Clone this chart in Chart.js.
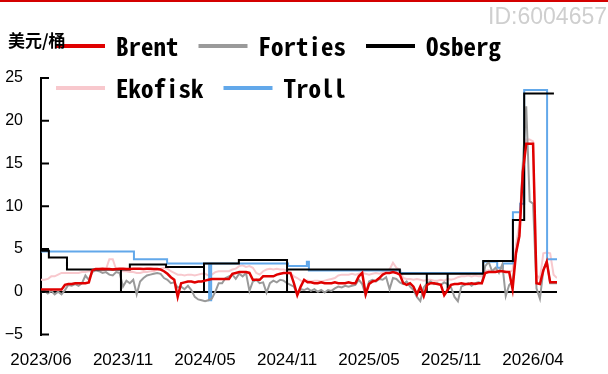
<!DOCTYPE html>
<html>
<head>
<meta charset="utf-8">
<script src="https://cdn.jsdelivr.net/npm/chart.js@4.4.0/dist/chart.umd.min.js"></script>
<style>
  html, body { margin: 0; padding: 0; background: #fff; }
</style>
</head>
<body>
<canvas id="myChart" width="608" height="374"></canvas>
<script>
// x runs over sample index; a date label every 24 samples
const tickLabels = ['2023/06', '2023/11', '2024/05', '2024/11', '2025/05', '2025/11', '2026/04'];
const tickStep = 24;
const lastIndex = 151;

const brent = [
  0.25, 0.25, 0.25, 0.25, 0.25, 0.25, 0.25, 0.8,
  0.9, 0.9, 1.0, 1.0, 1.0, 1.0, 1.1, 2.5,
  2.65, 2.65, 2.7, 2.65, 2.65, 2.6, 2.65, 2.7, 2.7, 2.65, 2.65, 2.7, 2.7, 2.7, 2.65, 2.7, 2.7, 2.65, 2.65, 2.6,
  2.4, 2.1, 1.7, 1.4, -0.6,
  1.0, 1.1, 1.2, 1.2, 1.1, 1.2, 1.2,
  1.3, 1.4, 1.5, 1.5, 1.5, 1.5, 1.5, 1.5,
  2.1, 2.2, 2.3, 2.3, 2.3, 2.2,
  1.4, 1.4, 1.4, 1.8, 1.8, 1.8, 1.8,
  2.0, 2.1, 2.2, 2.2, 2.2,
  1.0, -0.4, 0.6, 1.4, 1.1,
  1.1, 1.0, 1.0, 1.1, 1.0, 1.0, 1.0, 1.1, 1.0, 1.0, 1.0, 1.1, 1.0, 1.0,
  1.8, 2.2, -0.3,
  0.9, 1.2, 1.3, 1.6, 2.0, 2.2, 2.2, 2.3, 2.2, 2.0,
  1.0, 0.8, 1.0, 0.6, -0.3, 0.6, -0.5, 0.8,
  1.0, 1.0, 0.9, 0.8, -0.4, 0.2,
  0.8, 0.9, 0.9, 1.0, 0.9, 0.9, 1.0, 0.9, 1.0, 1.0,
  2.2, 2.3, 2.3, 2.3, 2.4, 2.4, 2.3, 2.3,
  0.3, 4.5, 6.5, 14.0,
  17.3, 17.3, 17.3,
  1.0, 0.9, 2.5, 3.5, 1.1, 1.1, 1.1
];

const forties = [
  0.0, 0.1, -0.2, 0.1, -0.3, 0.0, -0.3, 0.2,
  0.8, 0.7, 0.9, 0.7, 1.0, 1.9, 1.4,
  2.3, 2.5, 2.4, 2.2, 2.3, 2.0, 1.9, 2.3, 2.2,
  0.6, 1.3, 1.0, 1.4, -0.3, 1.2, 1.6, 1.9, 2.0, 2.1, 2.2, 2.1,
  1.6, 1.4, 1.0, 1.1, 0.5, 0.6, 0.3, 0.7, 0.2, -0.6, -0.9, -1.0, -1.1, -1.0, -0.8,
  0.0, 1.0, 1.0, 1.6, 1.8, 2.0, 1.5, 2.1, 1.8, 2.2,
  0.1, 1.2, 1.4, 1.0, 1.1, -0.1, 1.0, 1.3, 1.1, 1.4, 1.3, 1.0,
  0.8, 0.6, -0.3, 0.3, 0.2, 0.4, 0.1, 0.3, 0.0, 0.2, -0.1, 0.2, 0.1, 0.4,
  0.6, 0.5, 0.7, 0.6, 0.7, 0.8, 1.4, 0.9, -0.4,
  1.2, 1.4, 1.2, 1.5, 1.4, 1.7, 0.3, 1.6, 1.5, 1.1,
  0.9, 1.2, 0.6, 0.2, -0.6, -1.1, 0.5, 1.0,
  1.2, 0.9, 1.0, 0.8, 1.1, 0.9, 0.5, -0.6, -1.1,
  0.6, 0.8, 1.0, 0.7, 1.0, 1.1, 1.0,
  3.0, 3.5, 2.4, 2.8, 2.2, 3.2, -0.5, 0.8, 1.2,
  4.5, 7.0, 15.0, 21.7, 10.6, 10.3, 0.4,
  -0.8, 2.5, 3.6, 1.0, 1.0, 1.0
];

const ekofisk = [
  1.4, 1.4, 1.5, 1.8, 1.8, 2.0, 2.2, 2.2, 2.2,
  2.2, 2.2, 2.2, 2.3, 2.3, 2.4, 2.4, 2.5, 2.5, 2.5, 2.6,
  3.8, 3.8, 2.6, 2.5, 2.4, 2.4,
  2.3, 2.3, 2.2, 2.2, 2.3, 2.3, 2.4, 2.4, 2.6, 2.7,
  2.8, 2.7, 2.4, 2.2, 2.0, 2.0, 1.9, 2.0, 2.0, 1.9, 2.0, 2.1, 2.1, 1.9, 2.0,
  2.3, 2.4, 2.4, 2.4, 2.4, 2.6, 2.7, 3.0, 3.1, 2.9, 3.0, 2.8,
  2.2, 2.0, 2.4, 2.6, 2.7, 2.6, 2.7, 2.6, 2.6, 2.5, 2.2,
  1.8, 1.6, 1.3, 1.2, 1.3, 1.2, 1.3, 1.3, 1.2, 1.3, 1.4, 1.5, 1.6,
  1.9, 2.0, 2.0, 2.0, 2.1, 2.0, 2.1, 2.2, 2.1, 2.0, 2.1, 2.2, 2.1, 2.3,
  2.5, 2.6, 3.4, 2.8, 2.6,
  1.6, 1.5, 1.5, 1.4, 1.5, 1.4, 1.3, 1.4,
  1.4, 1.3, 1.3, 1.4, 1.3, 1.5, 1.4, 1.5,
  1.7, 1.8, 1.8, 1.9, 1.8, 1.9, 1.8, 1.8,
  2.4, 2.5, 2.4, 2.5, 2.6, 2.5, 2.4, 2.3, 2.5,
  5.5, 8.0, 14.5, 17.8, 17.8, 17.6, 2.0, 1.5,
  4.5, 4.6, 4.5, 2.0, 1.6
];

// Osberg and Troll move in steps: sample index where each level starts, and the level
const osbergX = [0, 2.3, 7.6, 23.4, 23.4, 26.0, 36.6, 47.7, 47.7, 57.9, 72, 72, 105, 112.9, 112.9, 119, 119, 129.4, 138.1, 141.4, 150.1];
const osbergY = [4.8, 4.0, 2.6, 0, 2.6, 3.2, 2.9, 0, 3.3, 3.7, 0, 2.6, 2.1, 0, 2.1, 0, 2.1, 3.6, 8.4, 23.2, 23.2];

const trollX = [0, 27.2, 36.9, 49.2, 49.8, 72.3, 77.8, 78.4, 105.1, 129.4, 133.5, 135.2, 138.1, 140.2, 141.4, 148.1, 151];
const trollY = [4.7, 3.8, 3.3, -1.0, 3.3, 3.0, 3.5, 2.5, 2.2, 3.5, 2.8, 3.3, 9.3, 10.3, 23.6, 3.8, 3.8];

const indexed = arr => arr.map((v, i) => ({ x: i, y: v }));
const zipped = (xs, ys) => xs.map((x, i) => ({ x: x, y: ys[i] }));

Chart.defaults.font.family = '"Liberation Sans", Arial, sans-serif';
Chart.defaults.color = '#000';

// legend rows and the unit label, drawn above the plot
const legendRows = [[0, 1, 2], [3, 4]];
const topDecor = {
  id: 'topDecor',
  afterDraw(chart) {
    const ctx = chart.ctx;
    const sets = chart.data.datasets;
    ctx.save();

    ctx.fillStyle = '#d40000';
    ctx.fillRect(0, 0, chart.width, 2);

    ctx.font = '23px "Liberation Sans", Arial, sans-serif';
    ctx.fillStyle = '#cfcfcf';
    ctx.textAlign = 'right';
    ctx.textBaseline = 'middle';
    ctx.fillText('ID:6004657', 607, 18);

    ctx.font = 'bold 25px "Noto Sans Mono CJK SC", "DejaVu Sans Mono", monospace';
    ctx.textAlign = 'left';
    legendRows.forEach((row, r) => {
      const y = 46 + r * 42;
      let x = 56;
      row.forEach(k => {
        ctx.strokeStyle = sets[k].borderColor;
        ctx.lineWidth = 4;
        ctx.beginPath();
        ctx.moveTo(x, y);
        ctx.lineTo(x + 49, y);
        ctx.stroke();
        ctx.fillStyle = '#000';
        ctx.fillText(sets[k].label, x + 60, y);
        x += 60 + ctx.measureText(sets[k].label).width + 20;
      });
    });

    ctx.font = 'bold 17px "Noto Sans CJK SC", sans-serif';
    ctx.fillStyle = '#000';
    ctx.fillText('美元/桶', 8, 41);

    // short inward tick marks on the value axis
    const ys = chart.scales.y;
    const left = chart.chartArea.left;
    ctx.strokeStyle = '#000';
    ctx.lineWidth = 2;
    ys.ticks.forEach(t => {
      const py = ys.getPixelForValue(t.value);
      ctx.beginPath();
      ctx.moveTo(left, py);
      ctx.lineTo(left + 8, py);
      ctx.stroke();
    });
    ctx.restore();
  }
};

const ctx = document.getElementById('myChart').getContext('2d');
const myChart = new Chart(ctx, {
  type: 'line',
  data: {
    datasets: [
      { label: 'Brent', data: indexed(brent), borderColor: '#e00000', borderWidth: 2.5, order: 0 },
      { label: 'Forties', data: indexed(forties), borderColor: '#9a9a9a', borderWidth: 2, order: 2 },
      { label: 'Osberg', data: zipped(osbergX, osbergY), borderColor: '#000000', borderWidth: 2, stepped: true, order: 1 },
      { label: 'Ekofisk', data: indexed(ekofisk), borderColor: '#f8c8cd', borderWidth: 2, order: 4 },
      { label: 'Troll', data: zipped(trollX, trollY), borderColor: '#62a8ea', borderWidth: 2, stepped: true, order: 3 }
    ]
  },
  options: {
    responsive: false,
    animation: false,
    elements: { point: { radius: 0 }, line: { tension: 0, fill: false } },
    layout: { padding: { top: 78, right: 51, left: 0, bottom: 0 } },
    plugins: { legend: { display: false }, tooltip: { enabled: false } },
    scales: {
      x: {
        type: 'linear',
        min: 0,
        max: lastIndex,
        grid: { display: false },
        border: { display: false },
        afterBuildTicks: scale => {
          scale.ticks = tickLabels.map((_, k) => ({ value: k * tickStep }));
        },
        afterFit: scale => { scale.height = 39.5; },
        ticks: {
          autoSkip: false,
          maxRotation: 0,
          padding: 8,
          font: { size: 17 },
          callback: v => tickLabels[Math.round(v / tickStep)]
        }
      },
      y: {
        min: -5,
        max: 25,
        afterFit: scale => { scale.width = 41; },
        border: { display: true, color: '#000', width: 2 },
        grid: {
          drawTicks: false,
          lineWidth: 2,
          color: c => (c.tick && c.tick.value === 0 ? '#000' : 'rgba(0,0,0,0)')
        },
        ticks: {
          stepSize: 5,
          padding: 18,
          font: { size: 16 },
          callback: v => (v < 0 ? '\u2212' + Math.abs(v) : String(v))
        }
      }
    }
  },
  plugins: [topDecor]
});
</script>
</body>
</html>
